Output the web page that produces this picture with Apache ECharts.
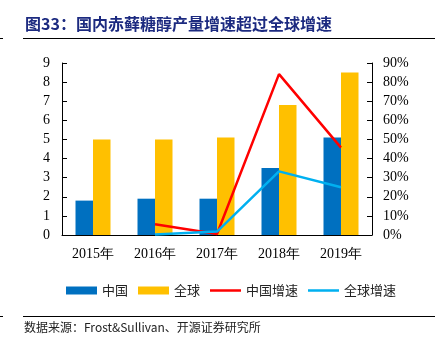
<!DOCTYPE html>
<html><head><meta charset="utf-8">
<script src="https://cdn.jsdelivr.net/npm/echarts@6/dist/echarts.min.js"></script>
<style>html,body{margin:0;padding:0;background:#fff}#c{width:444px;height:356px}</style>
</head><body><div id="c"></div>
<script>
var categories = ['2015年','2016年','2017年','2018年','2019年'];
var chinaOutput = [1.8, 1.9, 1.9, 3.5, 5.1];
var globalOutput = [5.0, 5.0, 5.1, 6.8, 8.5];
var chinaGrowth = [null, 5.6, 0.5, 84.2, 45.7];
var globalGrowth = [null, 0.2, 1.8, 33.3, 25.0];
var leftTicks = {min: 0, max: 9, interval: 1};
var rightTicks = {min: 0, max: 90, interval: 10};

var serif = '"Liberation Serif","DejaVu Serif",serif';
var cjk = '"Noto Sans CJK SC",sans-serif';
var lineIcon = 'path://M0,0H31V0.01H0Z M0,2.8H31V5.2H0Z M0,7.99H31V8H0Z';
var chart = echarts.init(document.getElementById('c'), null, {renderer: 'canvas'});
chart.setOption({
  animation: false,
  grid: {left: 62, right: 72, top: 63, bottom: 121},
  graphic: [
    {type: 'text', left: 25, top: 16, style: {text: '图33：', font: 'bold 16px ' + cjk, fill: '#1c2a80'}},
    {type: 'text', left: 76, top: 16, style: {text: '国内赤藓糖醇产量增速超过全球增速', font: 'bold 16px ' + cjk, fill: '#1c2a80'}},
    {type: 'line', shape: {x1: 23, y1: 38.5, x2: 435, y2: 38.5}, style: {stroke: '#000', lineWidth: 1}},
    {type: 'line', shape: {x1: 0, y1: 38.5, x2: 3, y2: 38.5}, style: {stroke: '#000', lineWidth: 1}},
    {type: 'line', shape: {x1: 23, y1: 316.5, x2: 435, y2: 316.5}, style: {stroke: '#000', lineWidth: 1}},
    {type: 'line', shape: {x1: 0, y1: 316.5, x2: 3, y2: 316.5}, style: {stroke: '#000', lineWidth: 1}},
    {type: 'text', left: 24, top: 321, style: {text: '数据来源：Frost&Sullivan、开源证券研究所', font: '12px ' + cjk, fill: '#222'}}
  ],
  legend: {
    top: 279, left: 61, itemWidth: 31, itemHeight: 8, itemGap: 10,
    textStyle: {fontFamily: cjk, fontSize: 13, color: '#222'},
    data: [
      {name: '中国', icon: 'rect'},
      {name: '全球', icon: 'rect'},
      {name: '中国增速', icon: lineIcon},
      {name: '全球增速', icon: lineIcon}
    ]
  },
  xAxis: {
    type: 'category', data: categories, boundaryGap: true,
    axisLine: {lineStyle: {color: '#000', width: 1}},
    axisTick: {inside: true, length: 5, lineStyle: {color: '#444'}},
    axisLabel: {fontFamily: serif, fontSize: 14, color: '#000', margin: 12}
  },
  yAxis: [
    {type: 'value', min: leftTicks.min, max: leftTicks.max, interval: leftTicks.interval,
     splitLine: {show: false},
     axisLine: {show: true, lineStyle: {color: '#000'}},
     axisTick: {show: true, inside: true, length: 5, lineStyle: {color: '#000'}},
     axisLabel: {fontFamily: serif, fontSize: 14, color: '#000', margin: 12}},
    {type: 'value', min: rightTicks.min, max: rightTicks.max, interval: rightTicks.interval,
     splitLine: {show: false},
     axisLine: {show: true, lineStyle: {color: '#000'}},
     axisTick: {show: true, inside: true, length: 5, lineStyle: {color: '#000'}},
     axisLabel: {fontFamily: serif, fontSize: 14, color: '#000', margin: 11, formatter: '{value}%'}}
  ],
  series: [
    {name: '中国', type: 'bar', data: chinaOutput, barWidth: 17.5, barGap: '0%',
     itemStyle: {color: '#0070C0'}},
    {name: '全球', type: 'bar', data: globalOutput, barWidth: 17.5, barGap: '0%',
     itemStyle: {color: '#FFC000'}},
    {name: '中国增速', type: 'line', yAxisIndex: 1, data: chinaGrowth, symbol: 'none',
     lineStyle: {color: '#FF0000', width: 2.5}, itemStyle: {color: '#FF0000'}},
    {name: '全球增速', type: 'line', yAxisIndex: 1, data: globalGrowth, symbol: 'none',
     lineStyle: {color: '#00B0F0', width: 2.5}, itemStyle: {color: '#00B0F0'}}
  ]
});
</script></body></html>
